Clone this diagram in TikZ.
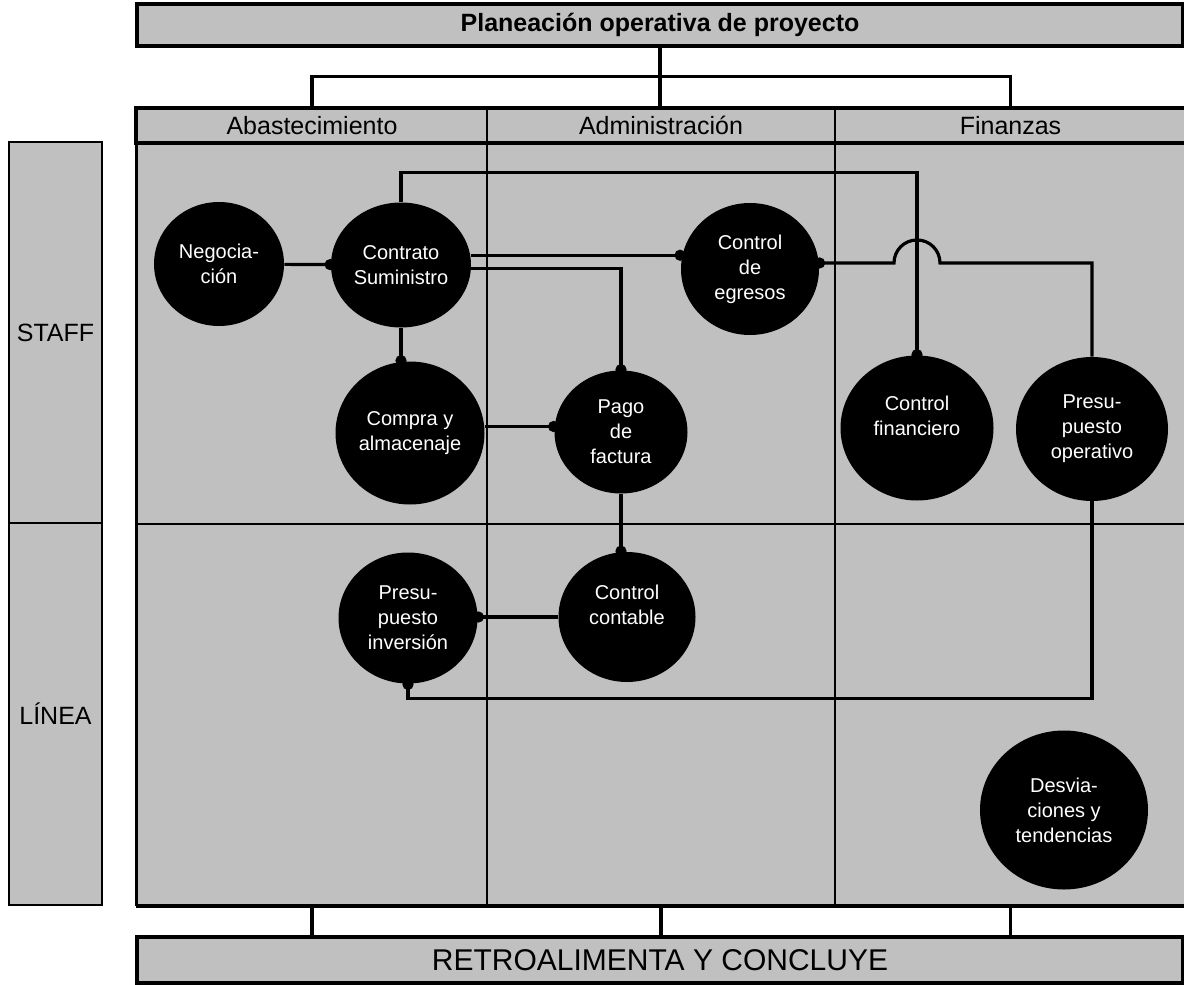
\documentclass[tikz,border=0pt]{standalone}
\usepackage{fontspec}
\setmainfont{Liberation Sans}
\usetikzlibrary{shapes.geometric,arrows.meta}

\definecolor{panel}{HTML}{C0C0C0}

\begin{document}
\begin{tikzpicture}[
        x=0.5pt,
        y=-0.5pt,
        every node/.style={font=\fontsize{10}{12.5}\selectfont},
        proc/.style={
            ellipse,
            fill=black,
            text=white,
            align=center,
            inner sep=0pt
        },
        cell/.style={
            rectangle,
            draw,
            fill=panel,
            line width=1pt,
            inner sep=0pt
        },
        label/.style={font=\fontsize{12.5}{14}\selectfont},
        bar/.style={cell, line width=2.3pt},
        link/.style={line width=1.6pt},
        conn/.style={line width=1.6pt, -{Circle[length=5.5pt]}, shorten >=-2.5pt}
    ]
    \useasboundingbox (0,0) rectangle (1184,985);

    % Staff / linea
    \node[cell, label, minimum width=46.5pt, minimum height=190.5pt] (staff) at (55.5,332.5) {STAFF};
    \node[cell, label, minimum width=46.5pt, minimum height=191pt] (linea) at (55.5,714) {LÍNEA};

    % Columns
    \node[cell, minimum width=175pt, minimum height=381.5pt] (laneA) at (312,523.5) {};
    \node[cell, minimum width=174pt, minimum height=381.5pt] (laneB) at (661,523.5) {};
    \node[cell, minimum width=175.5pt, minimum height=381.5pt] (laneC) at (1010.5,523.5) {};
    \draw[line width=1pt] (laneA.west |- staff.south) -- (laneC.east |- staff.south);
    \draw[line width=2.3pt] (laneA.south west) -- (laneC.south east);
    \draw[line width=1.5pt] (laneA.south west) -- (laneA.north west);

    % Header
    \node[cell, label, minimum width=175pt, minimum height=16.5pt] (abast) at (312,125.5) {Abastecimiento};
    \node[cell, label, minimum width=174pt, minimum height=16.5pt] (admin) at (661,125.5) {Administración};
    \node[cell, label, minimum width=175.5pt, minimum height=16.5pt] (finan) at (1010.5,125.5) {Finanzas};
    \draw[line width=2.4pt] (abast.north west) rectangle (finan.south east);

    \node[bar, font=\bfseries\fontsize{12.5}{14}\selectfont, minimum width=523pt, minimum height=21pt] (plan) at (660,25) {Planeación operativa de proyecto};
    \node[bar, font=\fontsize{15}{18}\selectfont, minimum width=523pt, minimum height=23pt] (retro) at (660,960) {RETROALIMENTA Y CONCLUYE};

    \draw[link] (plan.south) -- ++(0,28) coordinate (split);
    \draw[link] (split) -| (abast.north);
    \draw[link] (split) -| (finan.north);
    \draw[link] (split) -- (split |- admin.north);

    \draw[link] (laneA.south) -- (laneA.south |- retro.north);
    \draw[link] (laneB.south) -- (laneB.south |- retro.north);
    \draw[link] (laneC.south) -- (laneC.south |- retro.north);

    % Processes
    \node[proc, minimum width=65pt, minimum height=62pt] (nego) at (219,264) {Negocia-\\ción};
    \node[proc, minimum width=70pt, minimum height=62.5pt] (contrato) at (401,265) {Contrato\\Suministro};
    \node[proc, minimum width=69pt, minimum height=66pt] (egresos) at (750,269) {Control\\de\\egresos};
    \node[proc, minimum width=74.5pt, minimum height=71.5pt] (compra) at (410,433) {Compra y\\almacenaje};
    \node[proc, minimum width=66.5pt, minimum height=61.5pt] (pago) at (621,432) {Pago\\de\\factura};
    \node[proc, minimum width=76.5pt, minimum height=72.5pt] (financiero) at (917,428) {Control\\financiero\\\mbox{}};
    \node[proc, minimum width=76pt, minimum height=72pt] (presuop) at (1092,429) {Presu-\\puesto\\operativo};
    \node[proc, minimum width=69.5pt, minimum height=65.5pt] (inversion) at (408,618) {Presu-\\puesto\\inversión};
    \node[proc, minimum width=68.5pt, minimum height=65pt] (contable) at (627,617) {Control\\contable\\\mbox{}};
    \node[proc, minimum width=84pt, minimum height=79.5pt] (desv) at (1064,810) {Desvia-\\ciones y\\tendencias};

    % Links
    \draw[conn] (nego) -- (contrato);
    \draw[conn] (contrato.south) -- (contrato.south |- compra.north);
    \draw[conn] (contrato.north) -- ++(0,-30) -| (financiero.north);
    \draw[conn] (contrato.8) -- (contrato.8 -| egresos.west);
    \draw[conn] (contrato.-3) -| (pago.north);
    \draw[conn] (compra.5) -- (compra.5 -| pago.west);
    \draw[conn] (pago.south) -- (pago.south |- contable.north);
    \draw[conn] (contable.west) -- (contable.west -| inversion.east);
    \draw[conn] (presuop.south) -- ++(0,197) -| (inversion.south);

    % hop over the financiero line
    \coordinate (hop) at (financiero.north |- egresos.5);
    \draw[conn] (presuop.north) |- ([xshift=11.5pt]hop) arc[start angle=0, end angle=-180, radius=23] -- (egresos.5);

\end{tikzpicture}
\end{document}
